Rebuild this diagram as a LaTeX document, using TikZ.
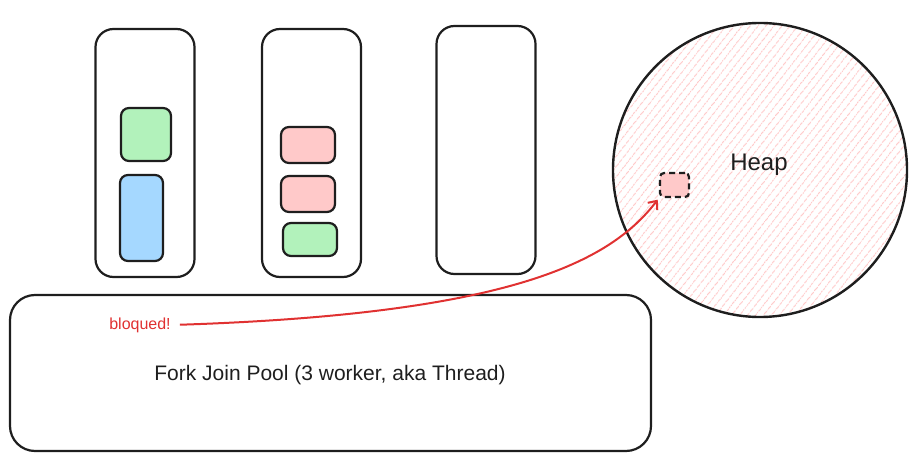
\documentclass[tikz,border=0pt]{standalone}
\usepackage{fontspec}
\setmainfont{Liberation Sans}
\usepackage{xcolor}
\usepackage{tikz}
\usetikzlibrary{arrows.meta,patterns.meta}
\definecolor{sketchblack}{HTML}{1E1E1E}
\definecolor{softgreen}{HTML}{B2F2BB}
\definecolor{softblue}{HTML}{A5D8FF}
\definecolor{softred}{HTML}{FFC9C9}
\definecolor{alertred}{HTML}{E03131}

\begin{document}
\begin{tikzpicture}[x=1pt,y=-1pt,>={Straight Barb[length=7pt,width=12pt]},line width=2.2pt,every node/.style={inner sep=0pt}]
\tikzstyle{worker}=[draw=sketchblack,fill=white,rounded corners=18pt,minimum width=99pt,minimum height=248pt]
\tikzstyle{task}=[draw=sketchblack,rounded corners=8pt]
\useasboundingbox (0,0) rectangle (917,462);
\node[worker] (w1) at (145,153) {};
\node[worker] (w2) at (311.5,153) {};
\node[worker] (w3) at (486,150) {};
\node[task,fill=softgreen,minimum width=50pt,minimum height=53pt] (g1) at (146,134.5) {};
\node[task,fill=softblue,minimum width=43pt,minimum height=86pt] (b1) at (141.5,218) {};
\node[task,fill=softred,minimum width=54pt,minimum height=36pt] (r1) at (308,145) {};
\node[task,fill=softred,minimum width=54pt,minimum height=36pt] (r2) at (308,194) {};
\node[task,fill=softgreen,minimum width=54pt,minimum height=33pt] (g2) at (310,239.5) {};
\node[draw=sketchblack,rounded corners=25pt,minimum width=641pt,minimum height=156pt] (pool) at (330.5,373) {};
\node[font=\fontsize{21}{24}\selectfont,text=sketchblack] (pooltxt) at (330,375) {Fork Join Pool (3 worker, aka Thread)};
\node[circle,draw=sketchblack,line width=2.4pt,minimum size=294pt,pattern={Lines[angle=52,distance=6.5pt,line width=1.2pt]},pattern color=softred] (heap) at (760,170) {};
\node[font=\fontsize{24}{28}\selectfont,text=sketchblack] (heaptxt) at (759,165) {Heap};
\node[task,dash pattern=on 6pt off 4pt,fill=softred,rounded corners=4pt,minimum width=29pt,minimum height=24pt] (obj) at (674.5,185) {};
\node[font=\fontsize{16}{18}\selectfont,text=alertred] (bloq) at (140,325) {bloqued!};
\draw[->,alertred,line width=2pt,shorten <=8pt,shorten >=2pt] (bloq.east) .. controls (510,314) and (610,262) .. (obj.south west);
\end{tikzpicture}
\end{document}
